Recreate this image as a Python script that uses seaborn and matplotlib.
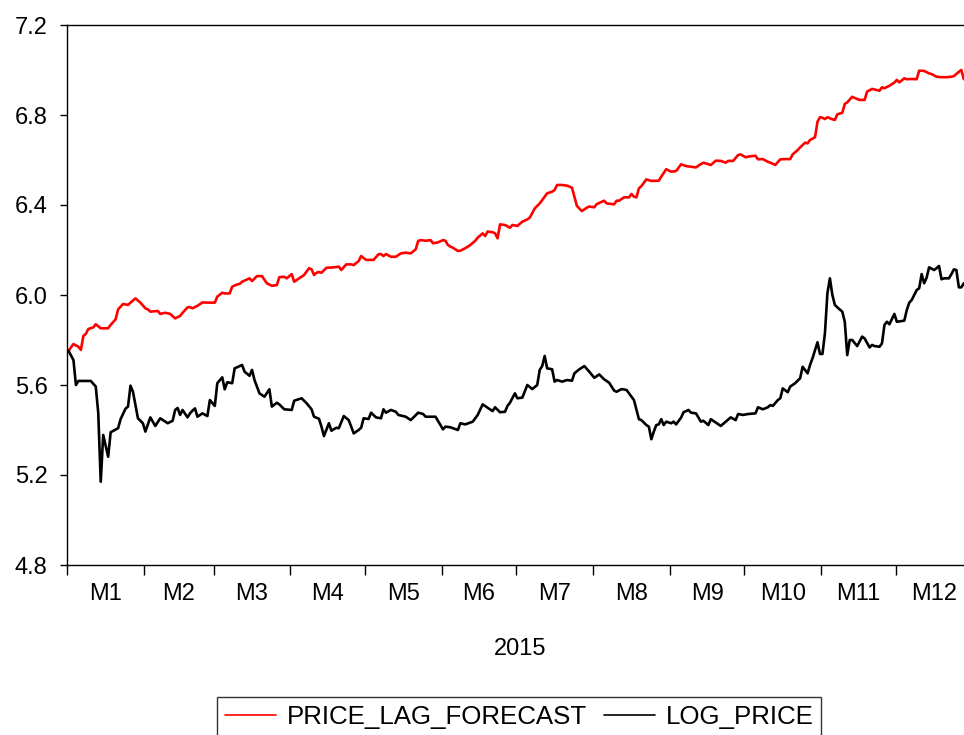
import numpy as np
import pandas as pd
import matplotlib
matplotlib.use("Agg")
import matplotlib.pyplot as plt
import seaborn as sns

# ---- data: day of year (0 = 1 Jan 2015) and value ----
forecast_day = [
    0, 2, 4, 5, 6, 7, 8, 10, 11, 13, 16, 17, 19, 20, 22, 24, 25, 27, 29, 31,
    32, 33, 36, 37, 39, 41, 43, 45, 46, 48, 49, 50, 52, 54, 57, 59, 60, 62, 63, 65,
    66, 68, 69, 70, 73, 74, 76, 78, 80, 82, 84, 85, 87, 88, 90, 91, 93, 95, 97, 98,
    99, 100, 101, 102, 104, 107, 109, 110, 112, 114, 115, 117, 118, 120, 123, 125, 126, 127, 128, 130,
    132, 134, 136, 138, 140, 141, 142, 144, 146, 147, 149, 151, 152, 153, 154, 155, 157, 158, 160, 162,
    164, 165, 167, 168, 169, 171, 172, 173, 174, 176, 178, 179, 181, 183, 185, 186, 188, 190, 191, 193,
    195, 196, 197, 199, 201, 203, 204, 205, 207, 209, 210, 212, 213, 216, 217, 220, 221, 222, 224, 226,
    227, 228, 229, 230, 231, 233, 235, 238, 239, 241, 243, 245, 247, 249, 251, 253, 255, 256, 259, 261,
    263, 265, 266, 268, 270, 271, 273, 274, 277, 278, 280, 282, 283, 285, 287, 289, 291, 292, 294, 295,
    297, 298, 299, 301, 302, 303, 304, 305, 306, 308, 309, 310, 312, 313, 314, 316, 318, 319, 321, 322,
    324, 327, 328, 329, 331, 333, 334, 335, 337, 338, 340, 342, 343, 345, 347, 348, 350, 352, 354, 356,
    357, 359, 360, 361,
]
forecast_val = [
    5.752, 5.782, 5.770, 5.756, 5.818, 5.827, 5.849, 5.856, 5.870, 5.852, 5.852, 5.867, 5.892, 5.936, 5.960, 5.956, 5.966, 5.985, 5.966, 5.941,
    5.936, 5.926, 5.929, 5.916, 5.921, 5.916, 5.896, 5.907, 5.921, 5.945, 5.946, 5.941, 5.952, 5.967, 5.966, 5.966, 5.993, 6.010, 6.007, 6.007,
    6.037, 6.047, 6.049, 6.059, 6.074, 6.062, 6.084, 6.084, 6.052, 6.041, 6.044, 6.079, 6.081, 6.074, 6.093, 6.059, 6.074, 6.089, 6.119, 6.114,
    6.089, 6.099, 6.102, 6.099, 6.121, 6.123, 6.126, 6.111, 6.136, 6.136, 6.133, 6.151, 6.173, 6.156, 6.156, 6.181, 6.182, 6.173, 6.182, 6.170,
    6.170, 6.185, 6.188, 6.185, 6.203, 6.240, 6.244, 6.241, 6.244, 6.230, 6.234, 6.244, 6.241, 6.222, 6.215, 6.210, 6.196, 6.197, 6.208, 6.222,
    6.241, 6.255, 6.274, 6.262, 6.282, 6.279, 6.274, 6.252, 6.314, 6.311, 6.299, 6.311, 6.307, 6.326, 6.336, 6.344, 6.385, 6.407, 6.422, 6.452,
    6.459, 6.467, 6.489, 6.489, 6.486, 6.477, 6.437, 6.396, 6.373, 6.388, 6.393, 6.390, 6.404, 6.419, 6.407, 6.403, 6.419, 6.419, 6.434, 6.434,
    6.449, 6.437, 6.434, 6.474, 6.484, 6.514, 6.507, 6.508, 6.526, 6.559, 6.548, 6.551, 6.581, 6.573, 6.570, 6.567, 6.582, 6.588, 6.578, 6.597,
    6.596, 6.588, 6.596, 6.596, 6.622, 6.625, 6.612, 6.615, 6.619, 6.603, 6.604, 6.592, 6.588, 6.578, 6.603, 6.604, 6.604, 6.625, 6.644, 6.656,
    6.677, 6.674, 6.689, 6.701, 6.770, 6.790, 6.788, 6.782, 6.790, 6.781, 6.778, 6.803, 6.810, 6.849, 6.856, 6.881, 6.871, 6.867, 6.867, 6.904,
    6.916, 6.908, 6.923, 6.919, 6.930, 6.944, 6.956, 6.945, 6.963, 6.959, 6.960, 6.959, 6.997, 6.996, 6.985, 6.982, 6.970, 6.968, 6.968, 6.970,
    6.973, 6.992, 7.000, 6.959,
]

log_day = [
    0, 2, 3, 4, 9, 11, 12, 13, 14, 16, 17, 20, 21, 23, 24, 25, 26, 28, 30, 31,
    33, 35, 37, 40, 42, 43, 44, 45, 46, 48, 49, 50, 51, 52, 54, 56, 57, 59, 60, 62,
    63, 64, 66, 67, 70, 71, 73, 74, 75, 77, 79, 81, 82, 84, 85, 87, 90, 91, 94, 96,
    98, 99, 101, 102, 103, 105, 106, 108, 109, 111, 113, 114, 115, 117, 118, 119, 121, 122, 124, 126,
    127, 128, 130, 132, 133, 136, 138, 141, 143, 144, 148, 149, 151, 152, 154, 157, 158, 160, 163, 165,
    167, 169, 171, 172, 174, 176, 177, 178, 180, 181, 183, 185, 187, 189, 190, 191, 192, 193, 195, 196,
    197, 199, 201, 203, 204, 206, 208, 210, 212, 214, 216, 218, 220, 221, 223, 225, 227, 228, 230, 231,
    233, 234, 235, 236, 237, 238, 239, 240, 241, 243, 244, 245, 247, 248, 250, 251, 253, 255, 256, 258,
    259, 261, 263, 265, 267, 269, 270, 272, 274, 277, 278, 280, 282, 283, 284, 286, 287, 288, 290, 291,
    293, 295, 296, 298, 299, 300, 302, 303, 304, 305, 306, 307, 308, 309, 310, 312, 313, 314, 315, 316,
    318, 320, 321, 323, 324, 325, 327, 328, 329, 330, 331, 333, 334, 337, 338, 339, 340, 342, 343, 344,
    345, 346, 347, 349, 350, 351, 352, 353, 355, 356, 357, 358, 359, 360, 361,
]
log_val = [
    5.752, 5.711, 5.600, 5.618, 5.618, 5.593, 5.476, 5.170, 5.378, 5.281, 5.390, 5.408, 5.448, 5.495, 5.504, 5.597, 5.570, 5.452, 5.430, 5.393,
    5.456, 5.418, 5.452, 5.430, 5.441, 5.489, 5.498, 5.467, 5.489, 5.456, 5.474, 5.486, 5.496, 5.459, 5.474, 5.462, 5.533, 5.507, 5.608, 5.634,
    5.581, 5.612, 5.608, 5.674, 5.689, 5.659, 5.641, 5.667, 5.622, 5.563, 5.548, 5.581, 5.504, 5.521, 5.514, 5.492, 5.489, 5.530, 5.541, 5.519,
    5.492, 5.459, 5.450, 5.415, 5.373, 5.430, 5.397, 5.410, 5.408, 5.462, 5.444, 5.415, 5.385, 5.400, 5.410, 5.452, 5.449, 5.477, 5.456, 5.452,
    5.492, 5.477, 5.489, 5.481, 5.467, 5.459, 5.444, 5.477, 5.471, 5.459, 5.459, 5.440, 5.403, 5.415, 5.412, 5.400, 5.430, 5.425, 5.437, 5.467,
    5.514, 5.499, 5.484, 5.501, 5.479, 5.481, 5.507, 5.521, 5.563, 5.541, 5.544, 5.600, 5.582, 5.600, 5.667, 5.684, 5.729, 5.674, 5.670, 5.615,
    5.622, 5.615, 5.622, 5.619, 5.652, 5.670, 5.684, 5.659, 5.632, 5.647, 5.625, 5.610, 5.575, 5.570, 5.582, 5.578, 5.548, 5.533, 5.448, 5.444,
    5.422, 5.415, 5.359, 5.393, 5.422, 5.425, 5.448, 5.422, 5.437, 5.430, 5.437, 5.425, 5.455, 5.479, 5.489, 5.477, 5.474, 5.437, 5.441, 5.422,
    5.448, 5.433, 5.418, 5.437, 5.456, 5.444, 5.471, 5.467, 5.471, 5.474, 5.501, 5.492, 5.501, 5.511, 5.507, 5.533, 5.541, 5.585, 5.568, 5.593,
    5.608, 5.630, 5.681, 5.652, 5.689, 5.719, 5.790, 5.738, 5.738, 5.830, 6.008, 6.074, 6.000, 5.956, 5.945, 5.926, 5.881, 5.733, 5.800, 5.800,
    5.773, 5.815, 5.807, 5.767, 5.778, 5.773, 5.770, 5.785, 5.867, 5.881, 5.870, 5.916, 5.881, 5.886, 5.933, 5.966, 5.978, 6.022, 6.030, 6.093,
    6.052, 6.077, 6.123, 6.111, 6.119, 6.129, 6.070, 6.074, 6.074, 6.093, 6.114, 6.111, 6.034, 6.034, 6.052,
]

series_names = ["PRICE_LAG_FORECAST", "LOG_PRICE"]
series_colors = ["#ff0000", "#000000"]
month_labels = ["M1", "M2", "M3", "M4", "M5", "M6", "M7", "M8", "M9", "M10", "M11", "M12"]
year_label = "2015"
y_ticks = [4.8, 5.2, 5.6, 6.0, 6.4, 6.8, 7.2]

# ---- styling ----
sns.set_style("ticks")
plt.rcParams["font.family"] = ["Liberation Sans", "Arimo", "DejaVu Sans"]
plt.rcParams["text.color"] = "black"
plt.rcParams["axes.labelcolor"] = "black"
plt.rcParams["xtick.color"] = "black"
plt.rcParams["ytick.color"] = "black"
FS = 17

df = pd.concat([
    pd.DataFrame({"day": forecast_day, "value": forecast_val, "series": series_names[0]}),
    pd.DataFrame({"day": log_day, "value": log_val, "series": series_names[1]}),
], ignore_index=True)

fig = plt.figure(figsize=(9.64, 7.35), dpi=100)
W, H = 964.0, 735.0
ax = fig.add_axes([67 / W, 1 - 565 / H, (972.5 - 67) / W, 540 / H])

sns.lineplot(data=df, x="day", y="value", hue="series", hue_order=series_names,
             palette=dict(zip(series_names, series_colors)), estimator=None,
             linewidth=1.9, ax=ax)

# calendar month boundaries and centres
starts = (pd.date_range("2015-01-01", "2015-12-01", freq="MS").dayofyear - 1).to_numpy()
bounds = np.append(starts, 365) - 0.5
centres = (bounds[:-1] + bounds[1:]) / 2

ax.set_xlim(-0.6, 364.5)
ax.set_ylim(4.8, 7.2)
ax.set_xticks(bounds)
ax.set_xticklabels([])
ax.set_xticks(centres, minor=True)
ax.set_xticklabels(month_labels, minor=True, fontsize=FS, color="black")
ax.tick_params(axis="x", which="major", direction="out", length=7, width=1, color="black")
ax.tick_params(axis="x", which="minor", length=0, pad=13)
ax.set_yticks(y_ticks)
ax.set_yticklabels([f"{v:.1f}" for v in y_ticks], fontsize=FS, color="black")
ax.tick_params(axis="y", direction="out", length=5, width=1, pad=9, color="black")

ax.set_xlabel(year_label, fontsize=FS, labelpad=24, color="black")
ax.set_ylabel("")

for side in ["left", "top", "bottom", "right"]:
    ax.spines[side].set_color("black")
    ax.spines[side].set_linewidth(1.0)

sns.move_legend(ax, "center", bbox_to_anchor=(519 / W, 1 - 717 / H),
                bbox_transform=fig.transFigure, ncol=2, title=None, frameon=True,
                fontsize=18.6, handlelength=2.0, handletextpad=0.4, columnspacing=0.65,
                borderpad=0.3, fancybox=False, edgecolor="black")
leg = ax.get_legend()
leg.get_frame().set_linewidth(1.0)
for line in leg.get_lines():
    line.set_linewidth(1.2)
for t in leg.get_texts():
    t.set_color("black")

fig.savefig("out.png", dpi=100)
